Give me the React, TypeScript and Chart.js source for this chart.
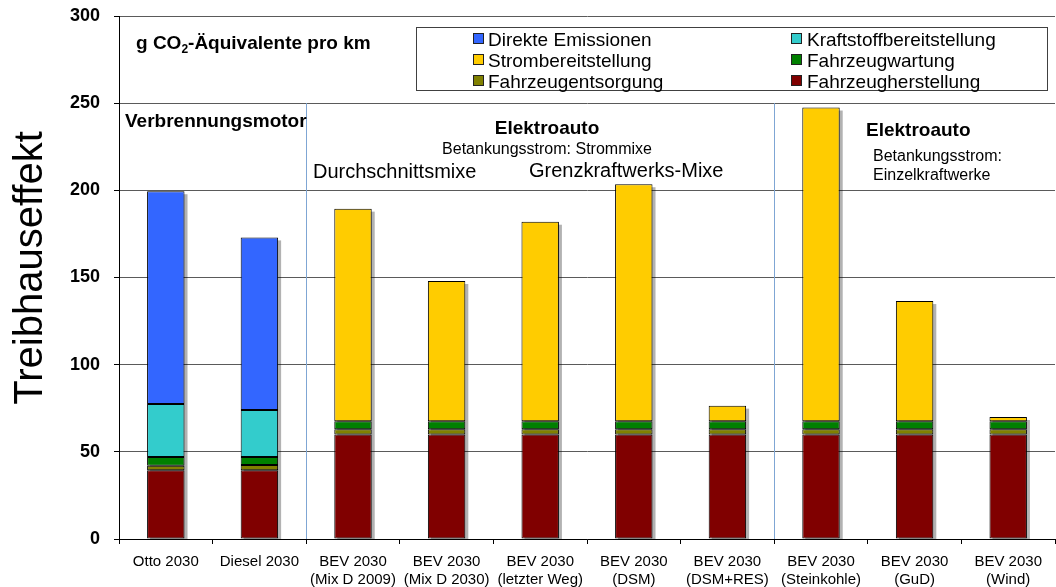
import React, { useEffect, useRef } from "react";
import { Chart, registerables } from "chart.js";

Chart.register(...registerables);

const categories: (string | string[])[] = [
  "Otto 2030",
  "Diesel 2030",
  ["BEV 2030", "(Mix D 2009)"],
  ["BEV 2030", "(Mix D 2030)"],
  ["BEV 2030", "(letzter Weg)"],
  ["BEV 2030", "(DSM)"],
  ["BEV 2030", "(DSM+RES)"],
  ["BEV 2030", "(Steinkohle)"],
  ["BEV 2030", "(GuD)"],
  ["BEV 2030", "(Wind)"],
];

const fahrzeugherstellung = [39.5, 39.5, 60, 60, 60, 60, 60, 60, 60, 60];
const fahrzeugentsorgung = [2.5, 3, 3, 3, 3, 3, 3, 3, 3, 3];
const fahrzeugwartung = [5, 4.5, 4.5, 4.5, 4.5, 4.5, 4.5, 4.5, 4.5, 4.5];
const kraftstoffbereitstellung = [30.5, 27, 0, 0, 0, 0, 0, 0, 0, 0];
const strombereitstellung = [0, 0, 122, 80.5, 114.5, 136, 9, 180, 69, 2.5];
const direkteEmissionen = [122, 99, 0, 0, 0, 0, 0, 0, 0, 0];

const yTicks = [0, 50, 100, 150, 200, 250, 300];

const legendItems = [
  { label: "Direkte Emissionen", color: "#3366FF" },
  { label: "Kraftstoffbereitstellung", color: "#33CCCC" },
  { label: "Strombereitstellung", color: "#FFCC00" },
  { label: "Fahrzeugwartung", color: "#008000" },
  { label: "Fahrzeugentsorgung", color: "#808000" },
  { label: "Fahrzeugherstellung", color: "#800000" },
];

const FONT = "Arial, 'Liberation Sans', sans-serif";

const nz = (a: number[]) => a.map((v) => (v === 0 ? null : v));

const decorPlugin = {
  id: "decor",
  beforeDatasetsDraw(chart: any) {
    const ctx = chart.ctx;
    const x = chart.scales.x;
    const y = chart.scales.y;
    ctx.save();
    ctx.strokeStyle = "#7FA6D4";
    ctx.lineWidth = 1;
    [1.5, 6.5].forEach((b) => {
      const px =
        Math.round(
          (x.getPixelForValue(Math.floor(b)) + x.getPixelForValue(Math.ceil(b))) / 2
        ) + 0.5;
      ctx.beginPath();
      ctx.moveTo(px, y.getPixelForValue(250));
      ctx.lineTo(px, y.getPixelForValue(0));
      ctx.stroke();
    });
    ctx.fillStyle = "rgba(0,0,0,0.3)";
    const metas = chart.getSortedVisibleDatasetMetas();
    for (let i = 0; i < categories.length; i++) {
      let top = Infinity;
      let bx = 0;
      let bw = 0;
      metas.forEach((m: any) => {
        const el = m.data[i];
        if (el && chart.data.datasets[m.index].data[i] != null) {
          if (el.y < top) top = el.y;
          bx = el.x;
          bw = el.width;
        }
      });
      const bottom = y.getPixelForValue(0);
      ctx.fillRect(bx - bw / 2 + 3, top + 3, bw, bottom - top - 3);
    }
    ctx.restore();
  },
  afterDraw(chart: any) {
    const ctx = chart.ctx;
    ctx.save();
    ctx.fillStyle = "#000";
    ctx.textAlign = "left";
    ctx.textBaseline = "alphabetic";

    ctx.save();
    ctx.translate(42, 268);
    ctx.rotate(-Math.PI / 2);
    ctx.textAlign = "center";
    ctx.font = `40px ${FONT}`;
    ctx.fillText("Treibhauseffekt", 0, 0);
    ctx.restore();

    let cx = 136;
    ctx.font = `bold 19px ${FONT}`;
    ctx.fillText("g CO", cx, 49);
    cx += ctx.measureText("g CO").width;
    ctx.font = `bold 12px ${FONT}`;
    ctx.fillText("2", cx, 53);
    cx += ctx.measureText("2").width;
    ctx.font = `bold 19px ${FONT}`;
    ctx.fillText("-Äquivalente pro km", cx, 49);

    ctx.fillStyle = "#fff";
    ctx.fillRect(416.5, 27.5, 631, 63);
    ctx.strokeStyle = "#404040";
    ctx.lineWidth = 1;
    ctx.strokeRect(416.5, 27.5, 631, 63);
    ctx.font = `19px ${FONT}`;
    const rowsY = [38.5, 59.5, 80.5];
    legendItems.forEach((it, i) => {
      const col = i % 2;
      const row = Math.floor(i / 2);
      const mx = col === 0 ? 473 : 791;
      const tx = col === 0 ? 488 : 807;
      const cy = rowsY[row];
      ctx.fillStyle = it.color;
      ctx.fillRect(mx + 0.5, cy - 5, 10, 10);
      ctx.strokeStyle = "#222";
      ctx.strokeRect(mx + 0.5, cy - 5, 10, 10);
      ctx.fillStyle = "#000";
      ctx.fillText(it.label, tx, cy + 7);
    });

    ctx.fillStyle = "#000";
    ctx.font = `bold 19px ${FONT}`;
    ctx.fillText("Verbrennungsmotor", 125, 127);
    ctx.textAlign = "center";
    ctx.fillText("Elektroauto", 547, 134);
    ctx.font = `16px ${FONT}`;
    ctx.fillText("Betankungsstrom: Strommixe", 547, 154);
    ctx.textAlign = "left";
    ctx.font = `20px ${FONT}`;
    ctx.fillText("Durchschnittsmixe", 313, 178);
    ctx.fillText("Grenzkraftwerks-Mixe", 529, 177);
    ctx.font = `bold 19px ${FONT}`;
    ctx.fillText("Elektroauto", 866, 136);
    ctx.font = `16px ${FONT}`;
    ctx.fillText("Betankungsstrom:", 873, 161);
    ctx.fillText("Einzelkraftwerke", 873, 180);
    ctx.restore();
  },
};

export default function App() {
  const ref = useRef<HTMLCanvasElement | null>(null);
  useEffect(() => {
    document.body.style.margin = "0";
    if (!ref.current) return;
    const mk = (label: string, data: number[], color: string) => ({
      label,
      data: nz(data),
      backgroundColor: color,
      borderColor: "#000",
      borderWidth: 1,
      borderSkipped: false,
      stack: "s",
      barPercentage: 0.4,
      categoryPercentage: 1,
    });
    const chart = new Chart(ref.current, {
      type: "bar",
      data: {
        labels: categories,
        datasets: [
          mk("Fahrzeugherstellung", fahrzeugherstellung, "#800000"),
          mk("Fahrzeugentsorgung", fahrzeugentsorgung, "#808000"),
          mk("Fahrzeugwartung", fahrzeugwartung, "#008000"),
          mk("Kraftstoffbereitstellung", kraftstoffbereitstellung, "#33CCCC"),
          mk("Strombereitstellung", strombereitstellung, "#FFCC00"),
          mk("Direkte Emissionen", direkteEmissionen, "#3366FF"),
        ] as any,
      },
      options: {
        animation: false,
        responsive: false,
        maintainAspectRatio: false,
        layout: { padding: { left: 0, top: 16, right: 1, bottom: 0 } },
        plugins: {
          legend: { display: false },
          tooltip: { enabled: false },
        },
        scales: {
          x: {
            stacked: true,
            offset: true,
            grid: {
              offset: true,
              drawOnChartArea: false,
              drawTicks: true,
              tickLength: 5,
              color: "#000",
            },
            border: { color: "#000", width: 1 },
            ticks: {
              color: "#000",
              font: { family: FONT, size: 15, lineHeight: 1.2 },
              padding: 9,
              maxRotation: 0,
              autoSkip: false,
            },
            afterFit: (s: any) => {
              s.height = 48;
              s.paddingLeft = 0;
              s.paddingRight = 0;
            },
          },
          y: {
            stacked: true,
            min: 0,
            max: 300,
            afterBuildTicks: (s: any) => {
              s.ticks = yTicks.map((v) => ({ value: v }));
            },
            grid: {
              color: "#5a5a5a",
              tickLength: 5,
              tickColor: "#000",
            },
            border: { color: "#000", width: 1 },
            ticks: {
              color: "#000",
              font: { family: FONT, size: 18, weight: "bold" },
              padding: 14,
            },
            afterFit: (s: any) => {
              s.width = 119;
              s.paddingTop = 0;
              s.paddingBottom = 0;
            },
          },
        },
      },
      plugins: [decorPlugin],
    });
    return () => chart.destroy();
  }, []);
  return (
    <div style={{ width: 1056, height: 587 }}>
      <canvas ref={ref} width={1056} height={587} style={{ display: "block" }} />
    </div>
  );
}
